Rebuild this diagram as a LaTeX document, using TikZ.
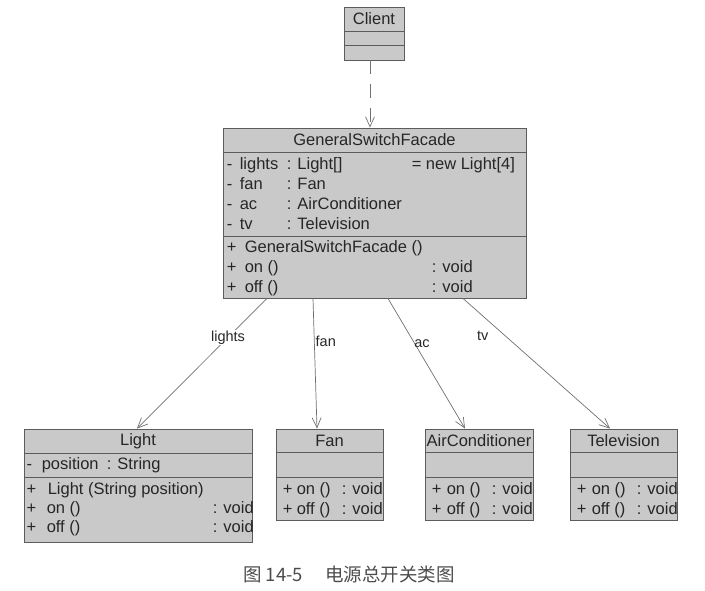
\documentclass[tikz,border=0pt]{standalone}
\usepackage{fontspec}
\setmainfont{Liberation Sans}
\newfontfamily\cjkfont{Noto Sans CJK SC}
\usepackage{tikz}
\usetikzlibrary{positioning,arrows.meta,calc}
\definecolor{boxfill}{HTML}{C9C9C9}
\definecolor{boxline}{HTML}{5C5C5C}
\definecolor{linkline}{HTML}{707070}

\begin{document}
\begin{tikzpicture}[x=1pt, y=-1pt,
  cls/.style={draw=boxline, fill=boxfill, line width=0.9pt, inner sep=0pt},
  sep/.style={draw=boxline, line width=0.7pt},
  txt/.style={anchor=base west, inner sep=0pt, text=black!85, font=\fontsize{16.5}{19}\selectfont},
  ttl/.style={anchor=base, inner sep=0pt, text=black!85, font=\fontsize{16.5}{19}\selectfont},
  assoc/.style={draw=linkline, line width=0.7pt, -{Straight Barb[length=10pt, width=9pt]}},
  lbl/.style={inner sep=1pt, text=black!85, font=\fontsize{14.5}{17}\selectfont},
  captxt/.style={anchor=base west, inner sep=0pt, text=black!70, font=\cjkfont\fontsize{18.5}{21}\selectfont},
]
  \useasboundingbox (0,0) rectangle (705,591);

  % classes
  \node[cls, minimum width=60pt,  minimum height=53pt]  (client) at (374,33.5)   {};
  \node[cls, minimum width=303pt, minimum height=170pt] (facade) at (374.5,213)  {};
  \node[cls, minimum width=228pt, minimum height=113pt] (light)  at (138,485.5)  {};
  \node[cls, minimum width=107pt, minimum height=91pt]  (fan)    at (329.5,474.5) {};
  \node[cls, minimum width=108pt, minimum height=91pt]  (aircon) at (479,474.5)  {};
  \node[cls, minimum width=107pt, minimum height=91pt]  (tvset)  at (623.5,474.5) {};

  % compartments
  \draw[sep] ([yshift=-25pt]client.north west) -- ([yshift=-25pt]client.north east);
  \draw[sep] ([yshift=-39pt]client.north west) -- ([yshift=-39pt]client.north east);
  \draw[sep] ([yshift=-25pt]facade.north west) -- ([yshift=-25pt]facade.north east);
  \draw[sep] ([yshift=-109pt]facade.north west) -- ([yshift=-109pt]facade.north east);
  \draw[sep] ([yshift=-25pt]light.north west) -- ([yshift=-25pt]light.north east);
  \draw[sep] ([yshift=-49pt]light.north west) -- ([yshift=-49pt]light.north east);
  \draw[sep] ([yshift=-24pt]fan.north west) -- ([yshift=-24pt]fan.north east);
  \draw[sep] ([yshift=-49pt]fan.north west) -- ([yshift=-49pt]fan.north east);
  \draw[sep] ([yshift=-24pt]aircon.north west) -- ([yshift=-24pt]aircon.north east);
  \draw[sep] ([yshift=-49pt]aircon.north west) -- ([yshift=-49pt]aircon.north east);
  \draw[sep] ([yshift=-24pt]tvset.north west) -- ([yshift=-24pt]tvset.north east);
  \draw[sep] ([yshift=-49pt]tvset.north west) -- ([yshift=-49pt]tvset.north east);

  % Client
  \node[ttl] (clientname) at ($(client.north)+(0,18)$) {Client};

  % GeneralSwitchFacade
  \node[ttl] (facadename) at ($(facade.north)+(0,18)$) {GeneralSwitchFacade};
  \node[txt] (fa1) at ($(facade.north west)+(4,42)$)  {-};
  \node[txt] (fa1n) at ($(facade.north west)+(17,42)$) {lights};
  \node[txt] (fa1t) at ($(facade.north west)+(64,42)$) {: Light[]};
  \node[txt] (fa1v) at ($(facade.north west)+(189,42)$) {= new Light[4]};
  \node[txt] (fa2) at ($(facade.north west)+(4,62)$)  {-};
  \node[txt] (fa2n) at ($(facade.north west)+(17,62)$) {fan};
  \node[txt] (fa2t) at ($(facade.north west)+(64,62)$) {: Fan};
  \node[txt] (fa3) at ($(facade.north west)+(4,82)$)  {-};
  \node[txt] (fa3n) at ($(facade.north west)+(17,82)$) {ac};
  \node[txt] (fa3t) at ($(facade.north west)+(64,82)$) {: AirConditioner};
  \node[txt] (fa4) at ($(facade.north west)+(4,102)$)  {-};
  \node[txt] (fa4n) at ($(facade.north west)+(17,102)$) {tv};
  \node[txt] (fa4t) at ($(facade.north west)+(64,102)$) {: Television};
  \node[txt] (fm1) at ($(facade.north west)+(4,125)$)  {+};
  \node[txt] (fm1n) at ($(facade.north west)+(22,125)$) {GeneralSwitchFacade ()};
  \node[txt] (fm2) at ($(facade.north west)+(4,145)$)  {+};
  \node[txt] (fm2n) at ($(facade.north west)+(22,145)$) {on ()};
  \node[txt] (fm2t) at ($(facade.north west)+(209,145)$) {: void};
  \node[txt] (fm3) at ($(facade.north west)+(4,165)$)  {+};
  \node[txt] (fm3n) at ($(facade.north west)+(22,165)$) {off ()};
  \node[txt] (fm3t) at ($(facade.north west)+(209,165)$) {: void};

  % Light
  \node[ttl] (lightname) at ($(light.north)+(0,17)$) {Light};
  \node[txt] (la1) at ($(light.north west)+(3,41)$)  {-};
  \node[txt] (la1n) at ($(light.north west)+(18,41)$) {position};
  \node[txt] (la1t) at ($(light.north west)+(83,41)$) {: String};
  \node[txt] (lm1) at ($(light.north west)+(3,66)$)  {+};
  \node[txt] (lm1n) at ($(light.north west)+(24,66)$) {Light (String position)};
  \node[txt] (lm2) at ($(light.north west)+(3,85)$)  {+};
  \node[txt] (lm2n) at ($(light.north west)+(23,85)$) {on ()};
  \node[txt] (lm2t) at ($(light.north west)+(189,85)$) {: void};
  \node[txt] (lm3) at ($(light.north west)+(3,104)$)  {+};
  \node[txt] (lm3n) at ($(light.north west)+(23,104)$) {off ()};
  \node[txt] (lm3t) at ($(light.north west)+(189,104)$) {: void};

  % Fan
  \node[ttl] (fanname) at ($(fan.north)+(0,18)$) {Fan};
  \node[txt] (fnm1) at ($(fan.north west)+(7,66)$)  {+};
  \node[txt] (fnm1n) at ($(fan.north west)+(21,66)$) {on ()};
  \node[txt] (fnm1t) at ($(fan.north west)+(66,66)$) {: void};
  \node[txt] (fnm2) at ($(fan.north west)+(7,86)$)  {+};
  \node[txt] (fnm2n) at ($(fan.north west)+(21,86)$) {off ()};
  \node[txt] (fnm2t) at ($(fan.north west)+(66,86)$) {: void};

  % AirConditioner
  \node[ttl] (airconname) at ($(aircon.north)+(0,18)$) {AirConditioner};
  \node[txt] (acm1) at ($(aircon.north west)+(7,66)$)  {+};
  \node[txt] (acm1n) at ($(aircon.north west)+(22,66)$) {on ()};
  \node[txt] (acm1t) at ($(aircon.north west)+(67,66)$) {: void};
  \node[txt] (acm2) at ($(aircon.north west)+(7,86)$)  {+};
  \node[txt] (acm2n) at ($(aircon.north west)+(22,86)$) {off ()};
  \node[txt] (acm2t) at ($(aircon.north west)+(67,86)$) {: void};

  % Television
  \node[ttl] (tvsetname) at ($(tvset.north)+(0,18)$) {Television};
  \node[txt] (tvm1) at ($(tvset.north west)+(7,66)$)  {+};
  \node[txt] (tvm1n) at ($(tvset.north west)+(22,66)$) {on ()};
  \node[txt] (tvm1t) at ($(tvset.north west)+(67,66)$) {: void};
  \node[txt] (tvm2) at ($(tvset.north west)+(7,86)$)  {+};
  \node[txt] (tvm2n) at ($(tvset.north west)+(22,86)$) {off ()};
  \node[txt] (tvm2t) at ($(tvset.north west)+(67,86)$) {: void};

  % connectors
  \draw[assoc, dash pattern=on 14pt off 10pt] ([xshift=-4pt]client.south) -- ([xshift=-4.5pt]facade.north);
  \draw[assoc] ([xshift=-107.5pt]facade.south) -- node[lbl, fill=white, pos=0.3] (lightslbl) {lights} ([xshift=-1pt]light.north);
  \draw[assoc] ([xshift=-61.5pt]facade.south) -- node[lbl, pos=0.33, right] (fanlbl) {fan} ([xshift=-12.5pt]fan.north);
  \draw[assoc] ([xshift=13.5pt]facade.south) -- node[lbl, pos=0.35, right, xshift=-2pt] (aclbl) {ac} ([xshift=-14pt]aircon.north);
  \draw[assoc] ([xshift=88.5pt]facade.south) -- node[lbl, pos=0.29, left, xshift=-16pt] (tvlbl) {tv} ([xshift=-13.5pt]tvset.north);

  % caption
  \node[captxt] (fignum) at (243,581) {图 14-5};
  \node[captxt] (figtitle) at (325,581) {电源总开关类图};
\end{tikzpicture}
\end{document}
